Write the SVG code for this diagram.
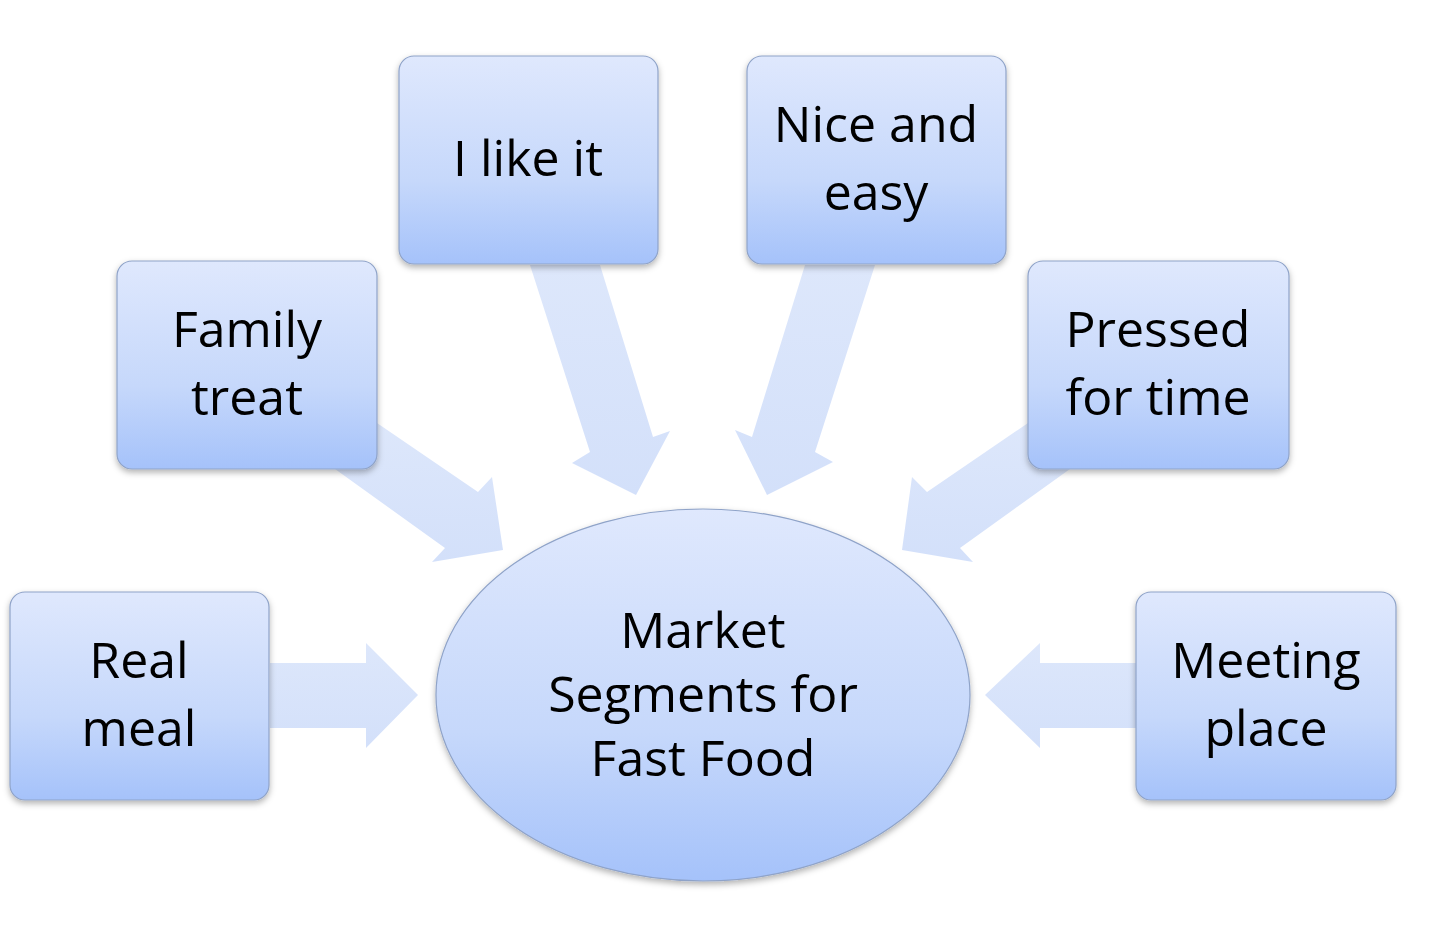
<svg xmlns="http://www.w3.org/2000/svg" width="1433" height="937" viewBox="0 0 1433 937">
<defs>
<linearGradient id="g" x1="0" y1="0" x2="0" y2="1"><stop offset="0" stop-color="#dfe8fd"/><stop offset="0.6" stop-color="#c6d8fb"/><stop offset="1" stop-color="#a5c2fa"/></linearGradient>
<linearGradient id="a" x1="0" y1="0" x2="0" y2="1"><stop offset="0" stop-color="#dde7fb"/><stop offset="1" stop-color="#d3e0fa"/></linearGradient>
<filter id="s" x="-10%" y="-10%" width="120%" height="125%"><feDropShadow dx="0" dy="3" stdDeviation="3" flood-color="#000" flood-opacity="0.3"/></filter>
</defs>
<style>
.b{fill:url(#g);stroke:#8fa3c8;stroke-width:1.2;filter:url(#s)}
.ar{fill:url(#a);stroke:none}
text{font-family:"Open Sans","Liberation Sans",sans-serif;font-size:50px;fill:#000;text-anchor:middle}
</style>
<rect width="1433" height="937" fill="#fff"/>
<g id="connectors">
<polygon class="ar" points="270,663 366,663 366,643 418,695 366,748 366,728 270,728"/>
<polygon class="ar" points="1136,663 1040,663 1040,643 985,695 1040,748 1040,728 1136,728"/>
<polygon class="ar" points="530,265 600,265 653,437 670,431 636,495 572,463 590,452"/>
<polygon class="ar" points="875,265 805,265 752,437 735,430 767,495 833,462 815,452"/>
<polygon class="ar" points="377,423 478,492 492,477 503,550 432,562 445,548 335,469"/>
<polygon class="ar" points="1028,423 927,492 912,477 902,550 973,562 960,548 1070,469"/>
</g>
<g id="center"><ellipse class="b" cx="703" cy="695" rx="267" ry="186"/>
<text x="703" y="648">Market</text><text x="703" y="712">Segments for</text><text x="703" y="776">Fast Food</text></g>
<g id="real"><rect class="b" x="10" y="592" width="259" height="208" rx="15"/><text x="139" y="678">Real</text><text x="139" y="746">meal</text></g>
<g id="family"><rect class="b" x="117" y="261" width="260" height="208" rx="15"/><text x="247" y="347">Family</text><text x="247" y="415">treat</text></g>
<g id="like"><rect class="b" x="399" y="56" width="259" height="208" rx="15"/><text x="528" y="176">I like it</text></g>
<g id="nice"><rect class="b" x="747" y="56" width="259" height="208" rx="15"/><text x="876" y="142">Nice and</text><text x="876" y="210">easy</text></g>
<g id="pressed"><rect class="b" x="1028" y="261" width="261" height="208" rx="15"/><text x="1158" y="347">Pressed</text><text x="1158" y="415">for time</text></g>
<g id="meeting"><rect class="b" x="1136" y="592" width="260" height="208" rx="15"/><text x="1266" y="678">Meeting</text><text x="1266" y="746">place</text></g>
</svg>
